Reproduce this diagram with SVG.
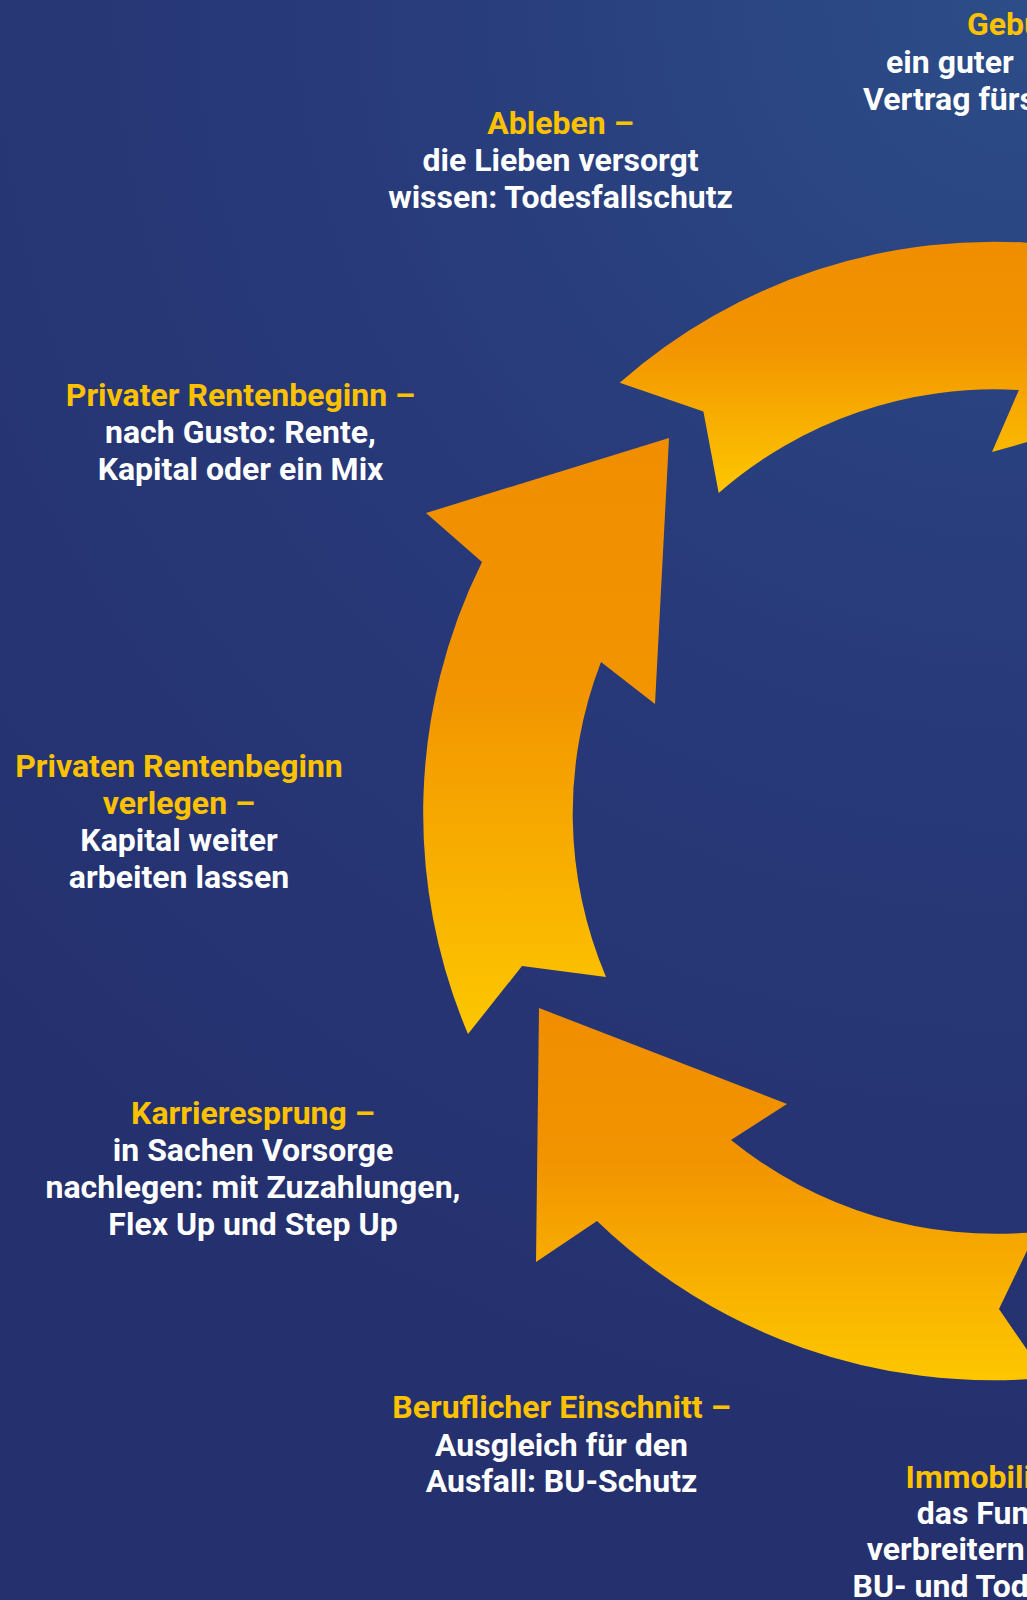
<svg xmlns="http://www.w3.org/2000/svg" width="1027" height="1600" viewBox="0 0 1027 1600">
  <defs>
    <radialGradient id="bg" gradientUnits="userSpaceOnUse" cx="1027" cy="0" r="1500">
      <stop offset="0" stop-color="#2C4D88"/>
      <stop offset="0.45" stop-color="#283A7A"/>
      <stop offset="1" stop-color="#25306E"/>
    </radialGradient>
    <linearGradient id="arrowGrad" x1="0" y1="0" x2="0" y2="1">
      <stop offset="0" stop-color="#F08E00"/>
      <stop offset="0.4" stop-color="#F29300"/>
      <stop offset="1" stop-color="#FDC700"/>
    </linearGradient>
    <style>
      .arrow { fill: url(#arrowGrad); }
      .lbl { font-family: Roboto, "Liberation Sans", sans-serif; font-weight: 700; font-size: 32px; }
      .hd { fill: #FCC200; }
      .tx { fill: #FFFFFF; }
      .c { text-anchor: middle; }
    </style>
  </defs>

  <rect x="0" y="0" width="1027" height="1600" fill="url(#bg)"/>

  <g id="connectors">
    <path id="arrow-top" class="arrow" d="M 619.7,382.8 A 566 566 0 0 1 1045,244 L 1045,437 L 992,452 L 1018.9,390 A 419 419 0 0 0 718.7,493 L 703.4,411.4 Z"/>
    <path id="arrow-left" class="arrow" d="M 426,513 L 669,438 L 655,704 L 601,662 A 419 419 0 0 0 606,977 L 522,966 L 468,1034 A 566 566 0 0 1 482,562 Z"/>
    <path id="arrow-bottom" class="arrow" d="M 539,1008 L 787,1104 L 731,1140 A 422 422 0 0 0 1036,1232 L 999,1309 L 1043,1373 L 1043,1378 A 570 570 0 0 1 597,1221 L 536,1262 Z"/>
  </g>

  <g id="node-geburt" class="lbl">
    <text x="967" y="35" class="hd">Gebu</text>
    <text x="886" y="72.5" class="tx">ein guter</text>
    <text x="863" y="110" class="tx">Vertrag fürs</text>
  </g>

  <g id="node-ableben" class="lbl c">
    <text x="560.5" y="133.5" class="hd">Ableben –</text>
    <text x="560.5" y="170.5" class="tx">die Lieben versorgt</text>
    <text x="560.5" y="207.5" class="tx">wissen: Todesfallschutz</text>
  </g>

  <g id="node-rentenbeginn" class="lbl c">
    <text x="240.5" y="406" class="hd">Privater Rentenbeginn –</text>
    <text x="240.5" y="443" class="tx">nach Gusto: Rente,</text>
    <text x="240.5" y="480" class="tx">Kapital oder ein Mix</text>
  </g>

  <g id="node-verlegen" class="lbl c">
    <text x="179" y="777" class="hd">Privaten Rentenbeginn</text>
    <text x="179" y="813.5" class="hd">verlegen –</text>
    <text x="179" y="851" class="tx">Kapital weiter</text>
    <text x="179" y="888" class="tx">arbeiten lassen</text>
  </g>

  <g id="node-karriere" class="lbl c">
    <text x="253" y="1124" class="hd">Karrieresprung –</text>
    <text x="253" y="1161" class="tx">in Sachen Vorsorge</text>
    <text x="253" y="1198" class="tx">nachlegen: mit Zuzahlungen,</text>
    <text x="253" y="1235" class="tx">Flex Up und Step Up</text>
  </g>

  <g id="node-beruf" class="lbl c">
    <text x="561.5" y="1418" class="hd">Beruflicher Einschnitt –</text>
    <text x="561.5" y="1455.5" class="tx">Ausgleich für den</text>
    <text x="561.5" y="1492" class="tx">Ausfall: BU-Schutz</text>
  </g>

  <g id="node-immobilie" class="lbl">
    <text x="905.6" y="1487.5" class="hd">Immobili</text>
    <text x="916.8" y="1524" class="tx">das Fun</text>
    <text x="866.7" y="1559.5" class="tx">verbreitern</text>
    <text x="852.5" y="1597" class="tx">BU- und Tod</text>
  </g>
</svg>
